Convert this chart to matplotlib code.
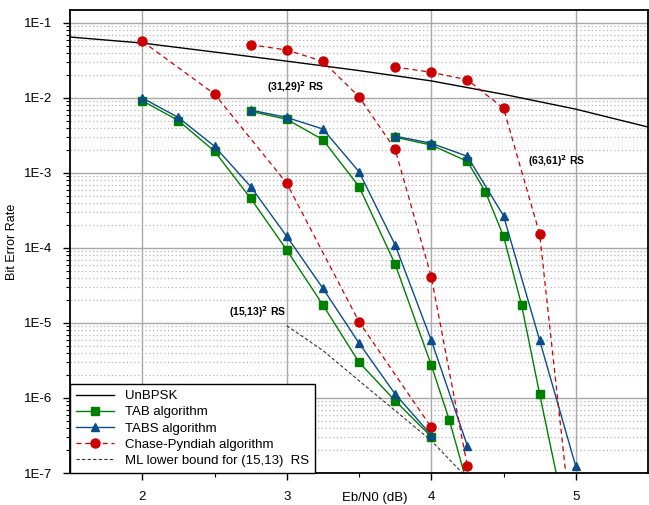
import matplotlib
matplotlib.use("Agg")
import matplotlib.pyplot as plt
from matplotlib.ticker import LogLocator, NullFormatter, FixedLocator

plt.rcParams['font.family'] = ['Liberation Sans', 'DejaVu Sans']

# UnBPSK
bpsk_x = [1.5, 2.0, 2.5, 3.0, 3.5, 4.0, 4.5, 5.0, 5.5]
bpsk_y = [0.065, 0.054, 0.041, 0.031, 0.0232, 0.0169, 0.0112, 0.0071, 0.0041]

# (15,13)^2 RS
tab15_x = [2.0, 2.25, 2.5, 2.75, 3.0, 3.25, 3.5, 3.75, 4.0]
tab15_y = [0.0092, 0.005, 0.00195, 0.00046, 9.4e-5, 1.74e-5, 3.0e-6, 9.2e-7, 3.05e-7]
tabs15_x = [2.0, 2.25, 2.5, 2.75, 3.0, 3.25, 3.5, 3.75, 4.0]
tabs15_y = [0.01, 0.0055, 0.00227, 6.6e-4, 1.43e-4, 2.9e-5, 5.4e-6, 1.13e-6, 3.2e-7]
cp15_x = [2.0, 2.5, 3.0, 3.5, 4.0]
cp15_y = [0.057, 0.0113, 7.3e-4, 1.04e-5, 4.06e-7]
ml15_x = [3.0, 3.25, 3.5, 3.75, 4.0, 4.25]
ml15_y = [9.2e-6, 4.3e-6, 1.7e-6, 6.8e-7, 2.7e-7, 8.5e-8]

# (31,29)^2 RS
tab31_x = [2.75, 3.0, 3.25, 3.5, 3.75, 4.0, 4.125, 4.25]
tab31_y = [0.00665, 0.0052, 0.00278, 6.6e-4, 6.1e-5, 2.75e-6, 5.1e-7, 7.0e-8]
tabs31_x = [2.75, 3.0, 3.25, 3.5, 3.75, 4.0, 4.25]
tabs31_y = [0.0069, 0.0055, 0.00386, 0.00104, 1.1e-4, 5.9e-6, 2.3e-7]
cp31_x = [2.75, 3.0, 3.25, 3.5, 3.75, 4.0, 4.25]
cp31_y = [0.0514, 0.0436, 0.0308, 0.0104, 0.00207, 4.15e-5, 1.23e-7]

# (63,61)^2 RS
tab63_x = [3.75, 4.0, 4.25, 4.375, 4.5, 4.625, 4.75, 4.875]
tab63_y = [0.003, 0.00236, 0.00143, 5.6e-4, 1.44e-4, 1.74e-5, 1.13e-6, 8.0e-8]
tabs63_x = [3.75, 4.0, 4.25, 4.5, 4.75, 5.0]
tabs63_y = [0.0031, 0.00249, 0.00167, 2.7e-4, 5.9e-6, 1.23e-7]
cp63_x = [3.75, 4.0, 4.25, 4.5, 4.75, 5.0]
cp63_y = [0.0259, 0.022, 0.0175, 0.0073, 1.54e-4, 6e-9]

labels = ["UnBPSK", "TAB algorithm", "TABS algorithm", "Chase-Pyndiah algorithm",
          "ML lower bound for (15,13)  RS"]
annotations = [("(31,29)$^{\\mathbf{2}}$ RS", 3.06, 0.014),
               ("(63,61)$^{\\mathbf{2}}$ RS", 4.87, 0.00144),
               ("(15,13)$^{\\mathbf{2}}$ RS", 2.80, 1.4e-5)]

green = "#008000"
blue = "#0B4C8C"
red = "#CC0000"

fig = plt.figure(figsize=(6.49, 5.05), dpi=100)
ax = fig.add_axes([70/649, 1-473/505, 578/649, 463/505])
ax.set_yscale('log')
ax.set_xlim(1.5, 5.5)
ax.set_ylim(1e-7, 0.149)

kw_tab = dict(color=green, lw=1.0, marker='s', ms=6, mfc=green, mec=green)
kw_tabs = dict(color=blue, lw=1.0, marker='^', ms=6, mfc=blue, mec=blue)
kw_cp = dict(color=red, lw=0.9, ls=(0, (4, 3)), marker='o', ms=6.5, mfc=red, mec=red)

lb, = ax.plot(bpsk_x, bpsk_y, color='black', lw=1.0, label=labels[0])
l1, = ax.plot(tab15_x, tab15_y, label=labels[1], **kw_tab)
ax.plot(tab31_x, tab31_y, **kw_tab)
ax.plot(tab63_x, tab63_y, **kw_tab)
l2, = ax.plot(tabs15_x, tabs15_y, label=labels[2], **kw_tabs)
ax.plot(tabs31_x, tabs31_y, **kw_tabs)
ax.plot(tabs63_x, tabs63_y, **kw_tabs)
l3, = ax.plot(cp15_x, cp15_y, label=labels[3], **kw_cp)
ax.plot(cp31_x, cp31_y, **kw_cp)
ax.plot(cp63_x, cp63_y, **kw_cp)
l4, = ax.plot(ml15_x, ml15_y, color='#333333', lw=0.8, ls=(0, (3, 2)), label=labels[4])

for txt, x, y in annotations:
    ax.text(x, y, txt, fontsize=7.5, fontweight='bold', ha='center', va='center')

# grid
ax.xaxis.set_major_locator(FixedLocator([2, 3, 4, 5]))
ax.xaxis.set_minor_locator(FixedLocator([2.5, 3.5, 4.5]))
ax.yaxis.set_major_locator(LogLocator(base=10, numticks=20))
ax.yaxis.set_minor_locator(LogLocator(base=10, subs=range(2, 10), numticks=20))
ax.yaxis.set_minor_formatter(NullFormatter())
ax.set_yticks([1e-7, 1e-6, 1e-5, 1e-4, 1e-3, 1e-2, 1e-1])
ax.set_yticklabels(["1E-7", "1E-6", "1E-5", "1E-4", "1E-3", "1E-2", "1E-1"])
ax.grid(which='major', axis='both', color='#A8A8A8', lw=1.0, ls='-')
ax.grid(which='minor', axis='y', color='#B4B4B4', lw=0.9, ls=(0, (1, 2)))
ax.set_axisbelow(True)

ax.tick_params(which='major', direction='out', length=5, width=1, labelsize=9.5, pad=8)
ax.tick_params(which='minor', direction='out', length=3, width=0.8)
for s in ax.spines.values():
    s.set_linewidth(1.3)
    s.set_color('black')

ax.set_xlabel("Eb/N0 (dB)", fontsize=9.5)
ax.xaxis.set_label_coords(0.528, -0.040)
ax.set_ylabel("Bit Error Rate", fontsize=9)
ax.yaxis.set_label_coords(-0.09, 0.5)

leg = ax.legend(handles=[lb, l1, l2, l3, l4], loc='lower left', fontsize=9.5,
                frameon=True, fancybox=False, borderaxespad=0, handlelength=2.9,
                labelspacing=0.3, borderpad=0.45)
leg.get_frame().set_edgecolor('black')
leg.get_frame().set_linewidth(1.0)
leg.get_frame().set_alpha(1)

fig.savefig("out.png", dpi=100)
